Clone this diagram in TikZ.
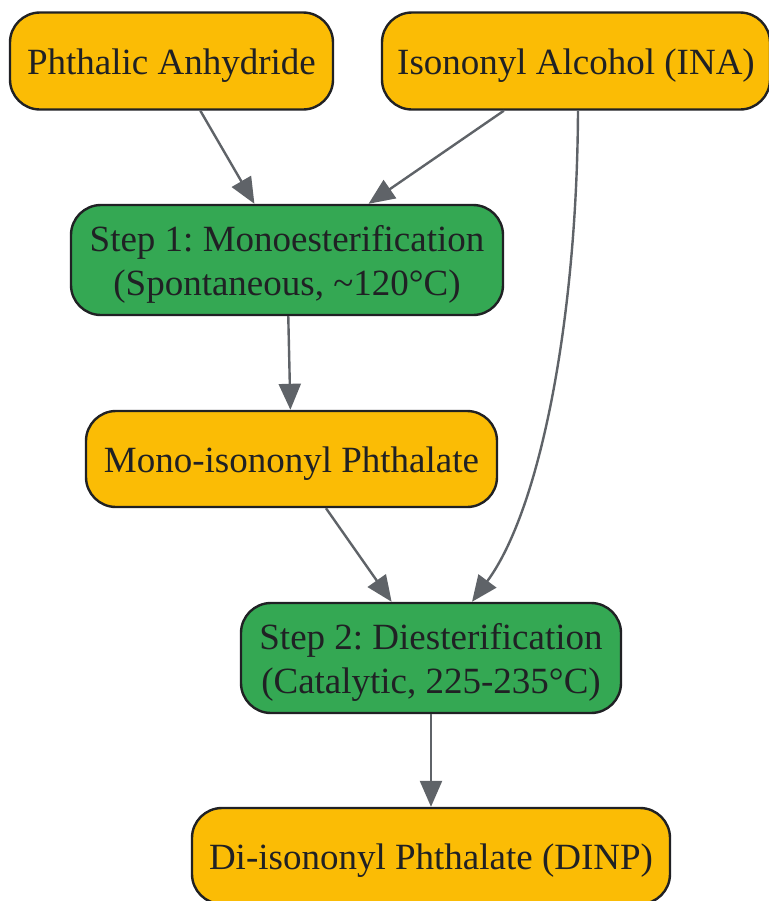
\documentclass[tikz,border=0pt]{standalone}
\usepackage{fontspec}
\setmainfont{Liberation Serif}
\usepackage{tikz}
\usetikzlibrary{positioning,arrows.meta}
\usepackage{xcolor}
\definecolor{rawfill}{HTML}{FBBC05}
\definecolor{stepfill}{HTML}{34A853}
\definecolor{inkgray}{HTML}{202124}
\definecolor{edgegray}{HTML}{5F6368}
\frenchspacing

\begin{document}
\begin{tikzpicture} [x=0.5pt, y=-0.5pt,
		box/.style={draw=inkgray, line width=1.2pt, rounded corners=15pt, inner sep=0pt, align=center, text=inkgray, text depth=4pt, font=\fontsize{18.5}{22}\selectfont},
		rawbox/.style={box, fill=rawfill, text height=17.5pt},
		stepbox/.style={box, fill=stepfill, text height=39.5pt},
		flow/.style={draw=edgegray, line width=1.2pt, -{Triangle[length=13pt, width=11pt]}}]
				\useasboundingbox (0, 0) rectangle (769, 901);
				\node [rawbox, minimum width=161.5pt, minimum height=48.5pt] (pa) at (171.5, 61) {Phthalic Anhydride};
				\node [rawbox, minimum width=194pt, minimum height=48.5pt] (ina) at (576, 61) {Isononyl Alcohol (INA)};
				\node [stepbox, minimum width=216pt, minimum height=55pt] (step1) at (287, 260) {Step 1: Monoesterification\\(Spontaneous, \textasciitilde120°C)};
				\node [rawbox, minimum width=205.5pt, minimum height=48pt] (mono) at (291.5, 459) {Mono-isononyl Phthalate};
				\node [stepbox, minimum width=190pt, minimum height=55pt] (step2) at (431, 658) {Step 2: Diesterification\\(Catalytic, 225-235°C)};
				\node [rawbox, minimum width=239pt, minimum height=48pt] (dinp) at (431, 856) {Di-isononyl Phthalate (DINP)};

				\draw [flow] (pa)--(step1);
				\draw [flow] (ina)--(step1);
				\draw [flow] ([xshift=1pt]ina.south) .. controls (577, 320) and (540, 510) .. ([xshift=20.5pt]step2.north);
				\draw [flow] (step1)--(mono);
				\draw [flow] (mono)--(step2);
				\draw [flow] (step2)--(dinp);

			\end{tikzpicture}
\end{document}
